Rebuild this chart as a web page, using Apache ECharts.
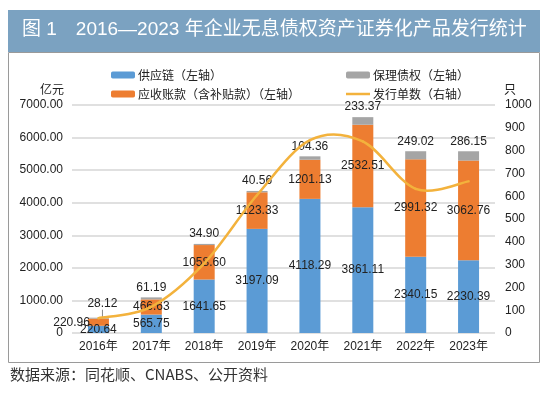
<!DOCTYPE html>
<html><head><meta charset="utf-8">
<script src="https://cdn.jsdelivr.net/npm/echarts@6/dist/echarts.min.js"></script>
<style>html,body{margin:0;padding:0;background:#fff}#c{width:550px;height:395px}</style>
</head><body><div id="c"></div>
<script>
const categories = ['2016年','2017年','2018年','2019年','2020年','2021年','2022年','2023年'];
const supplyChain = [220.64, 565.75, 1641.65, 3197.09, 4118.29, 3861.11, 2340.15, 2230.39];
const receivables = [220.96, 466.63, 1058.60, 1123.33, 1201.13, 2532.51, 2991.32, 3062.76];
const factoring = [28.12, 61.19, 34.90, 40.56, 104.36, 233.37, 249.02, 286.15];
const issueCount = [65, 115, 305, 605, 846, 840, 632, 665];

const FF = 'Liberation Sans, Arial, Noto Sans CJK SC, sans-serif';
const CJK = 'Noto Sans CJK SC, sans-serif';
const LINE = '#f3b23c';
const chart = echarts.init(document.getElementById('c'), null, {renderer:'canvas'});
const lbl = {show:true, color:'#222', fontSize:12, fontFamily:FF, formatter: p => p.value.toFixed(2)};

// Excel-style smoothed line (Catmull-Rom bezier) drawn through the axis scales
function renderSmooth(params, api) {
  const i = params.dataIndex, n = issueCount.length;
  if (i >= n - 1) return null;
  const P = k => api.coord([Math.max(0, Math.min(n - 1, k)), issueCount[Math.max(0, Math.min(n - 1, k))]]);
  const p0 = P(i - 1), p1 = P(i), p2 = P(i + 1), p3 = P(i + 2);
  return {
    type:'bezierCurve',
    shape:{x1:p1[0], y1:p1[1], x2:p2[0], y2:p2[1],
      cpx1:p1[0] + (p2[0] - p0[0]) / 6, cpy1:p1[1] + (p2[1] - p0[1]) / 6,
      cpx2:p2[0] - (p3[0] - p1[0]) / 6, cpy2:p2[1] - (p3[1] - p1[1]) / 6},
    style:{stroke:LINE, lineWidth:2.5, fill:null, lineCap:'round'}
  };
}

chart.setOption({
  backgroundColor:'#fff',
  animation:false,
  graphic:[
    {type:'rect', shape:{x:8.5,y:52.5,width:531,height:310}, style:{fill:'none', stroke:'#9a9a9a', lineWidth:1}, z:-1},
    {type:'rect', shape:{x:8,y:10,width:532,height:42}, style:{fill:'#7ba2c1'}, z:-1},
    {type:'text', left:22, top:20, style:{text:'图 1　2016—2023 年企业无息债权资产证券化产品发行统计', fill:'#fff', font:'19px ' + FF}},
    {type:'text', left:10, top:367, style:{text:'数据来源：同花顺、CNABS、公开资料', fill:'#333', font:'15px ' + CJK}},
    {type:'text', left:40, top:83, style:{text:'亿元', fill:'#222', font:'12px ' + CJK}},
    {type:'text', left:504, top:83, style:{text:'只', fill:'#222', font:'12px ' + CJK}}
  ],
  legend:[
    {orient:'vertical', left:106, top:64, itemWidth:24, itemHeight:7, itemGap:7, textStyle:{fontSize:12, fontFamily:CJK, color:'#222', padding:[0,0,0,-2]},
     data:['供应链（左轴）','应收账款（含补贴款）（左轴）']},
    {orient:'vertical', left:341, top:64, itemWidth:24, itemHeight:7, itemGap:7, textStyle:{fontSize:12, fontFamily:CJK, color:'#222', padding:[0,0,0,-2]},
     data:['保理债权（左轴）', {name:'发行单数（右轴）', icon:'path://M0,3h24v2.5h-24z'}]}
  ],
  grid:{left:72, right:55, top:105, bottom:62, containLabel:false},
  xAxis:{type:'category', data:categories, axisLine:{show:false}, axisTick:{show:false},
    axisLabel:{color:'#222', fontSize:12, fontFamily:FF, margin:8}},
  yAxis:[
    {type:'value', min:0, max:7000, interval:1000, axisLine:{show:false}, axisTick:{show:false},
     splitLine:{lineStyle:{color:'#d6d6d6', width:1.5}},
     axisLabel:{color:'#222', fontSize:12, fontFamily:FF, margin:9, formatter: v => v===0 ? '0' : v.toFixed(2)}},
    {type:'value', min:0, max:1000, interval:100, axisLine:{show:false}, axisTick:{show:false}, splitLine:{show:false},
     axisLabel:{color:'#222', fontSize:12, fontFamily:FF, margin:10, formatter: v => String(v)}}
  ],
  series:[
    {name:'供应链（左轴）', type:'bar', stack:'a', barWidth:21, data:supplyChain, itemStyle:{color:'#5b9bd5'},
     label:Object.assign({}, lbl, {position:'inside'})},
    {name:'应收账款（含补贴款）（左轴）', type:'bar', stack:'a', data:receivables.map((v,i)=> i===0 ? {value:v, label:{position:'left', distance:-2}} : v),
     itemStyle:{color:'#ed7d31'}, label:Object.assign({}, lbl, {position:'inside'})},
    {name:'保理债权（左轴）', type:'bar', stack:'a', itemStyle:{color:'#a5a5a5'},
     data:factoring.map((v,i)=> i===0 ? {value:v, labelLine:{show:true, lineStyle:{color:'#888', width:1}}} : v),
     label:Object.assign({}, lbl, {position:'top', distance:4}),
     labelLine:{show:false},
     labelLayout: p => p.dataIndex===0 ? {dx:4, dy:-4} : {}},
    {name:'发行单数（右轴）', type:'custom', yAxisIndex:1, data:issueCount.map((v,i)=>[i,v]),
     renderItem:renderSmooth, itemStyle:{color:LINE}, z:5, encode:{x:0, y:1}}
  ]
});
</script></body></html>
